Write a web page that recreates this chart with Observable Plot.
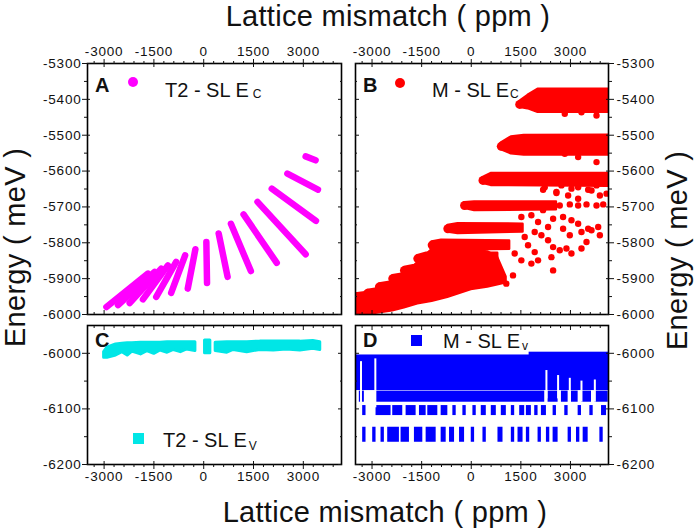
<!DOCTYPE html>
<html>
<head>
<meta charset="utf-8">
<script src="https://cdn.jsdelivr.net/npm/d3@7"></script>
<script src="https://cdn.jsdelivr.net/npm/@observablehq/plot@0.6"></script>
<style>
  html, body { margin: 0; padding: 0; background: #fff; }
  #chart { position: relative; width: 699px; height: 532px; background: #fff; overflow: hidden;
           font-family: "Liberation Sans", Arial, sans-serif; color: #111; }
  .pnl { position: absolute; }
  .pnl svg { background: transparent !important; overflow: visible; }
  .pnl svg text { letter-spacing: 0.8px; }
  .t { position: absolute; white-space: nowrap; line-height: 1; }
  .title { font-size: 29px; letter-spacing: 0.3px; }
  .leg { font-size: 20px; line-height: 20px; }
  .lab { font-size: 20px; line-height: 20px; font-weight: bold; }
  .sub { font-size: 12px; position: relative; margin-left: 4px; }
  .sym { position: absolute; }
</style>
</head>
<body>
<div id="chart"></div>
<script>
// ---------- shared axes ----------
const xDomain = [-3500, 4150];
const xMajor = [-3000, -1500, 0, 1500, 3000];
const xMinor = [-3300, -2700, -2400, -2100, -1800, -1200, -900, -600, -300, 300, 600, 900, 1200, 1800, 2100, 2400, 2700, 3300, 3600, 3900];
const yTopDomain = [-6000, -5300];
const yTopMajor = [-5300, -5400, -5500, -5600, -5700, -5800, -5900, -6000];
const yTopMinor = [-5350, -5450, -5550, -5650, -5750, -5850, -5950];
const yBotDomain = [-6200, -5950];
const yBotMajor = [-6000, -6100, -6200];
const yBotMinor = [-6050, -6150];

// ---------- Panel A : T2-SL Ec (stripes of dense dots) ----------
const aX1 = [3070, 2520, 2050, 1620, 1200, 820, 450, 80, -250, -560, -830, -1080, -1280, -1480, -1680];
const aY1 = [-5559, -5607, -5649, -5686, -5721, -5747, -5774, -5798, -5818, -5835, -5853, -5863, -5872, -5881, -5886];
const aX2 = [3370, 3440, 3380, 3070, 2200, 1420, 720, 100, -480, -980, -1430, -1830, -2230, -2580, -2930];
const aY2 = [-5570, -5652, -5739, -5832, -5856, -5879, -5895, -5912, -5928, -5940, -5951, -5958, -5968, -5974, -5979];

// ---------- Panel B : M-SL Ec ----------
const bBandId = [1,1,1,1, 2,2,2,2, 3,3,3, 4,4,4, 5,5,5, 6,6,6, 7,7,7, 8,8,8, 9,9,9, 10,10,10, 11,11,11, 12,12,12];
const bBandX  = [1465,1717,2020,4150, 908,1212,1600,4150, 354,600,4150, -202,100,2575, -708,-400,1565, -1182,-900,1160,
                 -1616,-1350,800, -2020,-1750,-1400, -2374,-2100,-1800, -2778,-2500,-2200, -3131,-2850,-2500, -3520,-3200,-2900];
const bBandLo = [-5422,-5426,-5436,-5436, -5540,-5552,-5555,-5555, -5634,-5640,-5642, -5704,-5710,-5708, -5770,-5774,-5770,
                 -5815,-5821,-5818, -5852,-5857,-5857, -5885,-5890,-5890, -5908,-5912,-5912, -5931,-5935,-5935, -5949,-5953,-5953, -5959,-5963,-5963];
const bBandHi = [-5406,-5389,-5372,-5372, -5522,-5505,-5501,-5500, -5618,-5607,-5607, -5688,-5686,-5686, -5752,-5747,-5748,
                 -5798,-5793,-5795, -5836,-5829,-5829, -5869,-5864,-5864, -5892,-5888,-5888, -5915,-5911,-5911, -5933,-5929,-5929, -5943,-5939,-5939];
const bMassX  = [-3520, -3131, -2778, -2374, -2020, -1616, -1182, -708, 0, 500, 800, 1060];
const bMassLo = [-6010, -6000, -5996, -5990, -5982, -5971, -5964, -5953, -5931, -5924, -5918, -5912];
const bMassHi = [-5957, -5950, -5932, -5910, -5888, -5855, -5818, -5818, -5820, -5825, -5840, -5895];
const bDotX = [2828, 3333, 3788, 3232, 3788, 4141, 2828, 2172, 2576, 3030, 3535, 4091,
               2222, 2727, 3232, 3788, 2575, 2929, 3232, 3889, 3636,
               2424, 2676, 2980, 3232, 3485, 3788, 3990,
               1515, 1818, 2171, 2020, 2323, 2475, 2777, 3030, 3232, 3535, 3838, 2777, 2980, 3333, 3636, 3889,
               1919, 2121, 2323, 2475, 2676, 2878, 3030, 3333, 3485, 1717, 1919, 2020, 1818, 2424, 2475, 1262, 1060, 1515, 1313, 1616];
const bDotY = [-5440, -5436, -5445, -5561, -5575, -5547, -5552, -5652, -5661, -5649, -5652, -5663,
               -5645, -5640, -5645, -5640, -5658, -5668, -5677, -5668, -5654,
               -5693, -5696, -5693, -5696, -5693, -5696, -5693,
               -5728, -5723, -5709, -5742, -5756, -5733, -5728, -5737, -5747, -5761, -5756, -5761, -5779, -5770, -5765, -5779,
               -5770, -5779, -5793, -5812, -5821, -5816, -5830, -5816, -5798, -5807, -5826, -5849, -5858, -5840, -5877, -5891, -5914, -5849, -5830, -5784];

// ---------- Panel C : T2-SL Ev ----------
const cSeg = [1,1,1,1,1,1,1,1,1,1,1,1,1,1,1, 2,2, 3,3,3,3,3,3,3,3,3,3];
const cX  = [-3000,-2900,-2640,-2450,-2290,-2150,-1890,-1700,-1490,-1300,-1090,-900,-690,-500,-250, 40,200,
             360,710,900,1310,1700,2110,2500,2910,3300,3510];
const cLo = [-6008,-6008,-6004,-5998,-6004,-5997,-6002,-5996,-6001,-5995,-5999,-5994,-5998,-5993,-5996, -6000,-6000,
             -5996,-5999,-5994,-5998,-5994,-5995,-5993,-5995,-5992,-5994];
const cHi = [-5998,-5990,-5984,-5983,-5982,-5982,-5981,-5981,-5981,-5981,-5980,-5980,-5980,-5980,-5980, -5977,-5977,
             -5981,-5980,-5980,-5980,-5979,-5979,-5979,-5979,-5978,-5980];

// ---------- Panel D : M-SL Ev ----------
const dBlockX1 = [-3500, 1750];
const dBlockX2 = [4150, 4150];
const dBlockY1 = [-6067, -6020];
const dBlockY2 = [-6003, -5998];
const dRowY = [[-6088, -6068], [-6112, -6094], [-6160, -6133]];
const dRowX = [
  [[-3384,-3232],[-2879,2222],[2323,2626],[2727,2929],[3030,3232],[3333,3636],[3737,4141]],
  [[-3283,-3182],[-2879,-2425],[-2374,-2071],[-1970,-1667],[-1566,-1364],[-1314,-1011],[-910,-708],[-556,-455],[-253,-152],
   [50,151],[303,455],[606,758],[909,1061],[1212,1313],[1465,1616],[1667,1818],[1919,2020],[2121,2273],[2475,2576],
   [2828,2929],[3232,3333],[3586,3687],[3939,4091]],
  [[-3283,-3182],[-2980,-2879],[-2728,-2627],[-2526,-2172],[-2122,-1869],[-1718,-1465],[-1364,-1061],[-910,-758],[-657,-505],
   [-354,-202],[0,101],[354,455],[808,960],[1212,1313],[1414,1566],[1667,1768],[2020,2121],[2273,2374],[2475,2626],
   [2929,3030],[3182,3283],[3384,3535],[3889,3990]]
];
const dNotchX  = [-3333, -2900, 2273, 2626, 2980, 3333, 3737];
const dNotchY1 = [-6095, -6098, -6082, -6082, -6088, -6088, -6088];
const dNotchY2 = [-6015, -6010, -6031, -6040, -6045, -6050, -6048];

// ---------- build tables ----------
const aRows = aX1.map((d, i) => ({x1: d, y1: aY1[i], x2: aX2[i], y2: aY2[i]}));
const bBands = bBandX.map((d, i) => ({band: bBandId[i], x: d, lo: bBandLo[i], hi: bBandHi[i], mid: (bBandLo[i] + bBandHi[i]) / 2}));
const bMass = bMassX.map((d, i) => ({x: d, lo: bMassLo[i], hi: bMassHi[i]}));
const bDots = bDotX.map((d, i) => ({x: d, y: bDotY[i]}));
const cRows = cX.map((d, i) => ({seg: cSeg[i], x: d, lo: cLo[i], hi: cHi[i]}));
const dRects = dBlockX1.map((d, i) => ({x1: d, x2: dBlockX2[i], y1: dBlockY1[i], y2: dBlockY2[i]}));
dRowX.forEach((row, r) => row.forEach(([a, b]) => dRects.push({x1: a, x2: b, y1: dRowY[r][0], y2: dRowY[r][1]})));
const dNotches = dNotchX.map((d, i) => ({x: d, y1: dNotchY1[i], y2: dNotchY2[i]}));

// ---------- panel factory ----------
const fmt = d => String(d);
const blank = () => "";
function panel({left, top, width, height, margin, yDomain, yMajor, yMinor, xSide, ySide, marks}) {
  const xo = xSide === "top" ? "bottom" : "top";
  const yo = ySide === "left" ? "right" : "left";
  const svg = Plot.plot({
    width, height,
    marginLeft: margin[3], marginRight: margin[1], marginTop: margin[0], marginBottom: margin[2],
    x: {domain: xDomain},
    y: {domain: yDomain},
    style: {fontSize: "13.5px", fontFamily: "'Liberation Sans', Arial, sans-serif", color: "#111", background: "transparent"},
    marks: [
      ...marks,
      Plot.frame({stroke: "#000", strokeWidth: 1.6}),
      Plot.axisX({ticks: xMajor, anchor: xSide, tickSize: 5, tickPadding: xSide === "top" ? 3 : 2, tickFormat: fmt, label: null}),
      Plot.axisX({ticks: xMinor, anchor: xSide, tickSize: 3, tickFormat: blank, label: null}),
      Plot.axisX({ticks: xMajor, anchor: xSide, tickSize: -3, tickFormat: blank, label: null}),
      Plot.axisX({ticks: xMajor, anchor: xo, tickSize: -4, tickFormat: blank, label: null}),
      Plot.axisX({ticks: xMinor, anchor: xo, tickSize: -2, tickFormat: blank, label: null}),
      Plot.axisY({ticks: yMajor, anchor: ySide, tickSize: 5, tickPadding: ySide === "left" ? 1 : 3, tickFormat: fmt, label: null}),
      Plot.axisY({ticks: yMinor, anchor: ySide, tickSize: 3, tickFormat: blank, label: null}),
      Plot.axisY({ticks: yMajor, anchor: ySide, tickSize: -3, tickFormat: blank, label: null}),
      Plot.axisY({ticks: yMajor, anchor: yo, tickSize: -4, tickFormat: blank, label: null}),
      Plot.axisY({ticks: yMinor, anchor: yo, tickSize: -2, tickFormat: blank, label: null})
    ]
  });
  const div = document.createElement("div");
  div.className = "pnl";
  div.style.left = left + "px";
  div.style.top = top + "px";
  div.appendChild(svg);
  document.getElementById("chart").appendChild(div);
}

const MAG = "#ff00ff", RED = "#ff0000", CYAN = "#00e6e6", BLUE = "#0000ff";

// A
panel({left: 0, top: 0, width: 349, height: 319, margin: [63, 8, 5, 87],
  yDomain: yTopDomain, yMajor: yTopMajor, yMinor: yTopMinor, xSide: "top", ySide: "left",
  marks: [
    Plot.link(aRows, {x1: "x1", y1: "y1", x2: "x2", y2: "y2", stroke: MAG, strokeWidth: 6.5, strokeLinecap: "round", clip: true})
  ]});
// B
panel({left: 349, top: 0, width: 350, height: 319, margin: [63, 91, 5, 6],
  yDomain: yTopDomain, yMajor: yTopMajor, yMinor: yTopMinor, xSide: "top", ySide: "right",
  marks: [
    Plot.areaY(bMass, {x: "x", y1: "lo", y2: "hi", fill: RED, stroke: RED, strokeWidth: 2, strokeLinejoin: "round", clip: true}),
    Plot.areaY(bBands, {x: "x", y1: "lo", y2: "hi", z: "band", fill: RED, stroke: RED, strokeWidth: 2.5, strokeLinejoin: "round", clip: true}),
    Plot.dot(bBands, Plot.selectFirst({x: "x", y: "mid", z: "band", r: 4.5, fill: RED, clip: true})),
    Plot.dot(bDots, {x: "x", y: "y", r: 3.2, fill: RED, clip: true})
  ]});
// C
panel({left: 0, top: 319, width: 349, height: 213, margin: [6, 8, 68, 87],
  yDomain: yBotDomain, yMajor: yBotMajor, yMinor: yBotMinor, xSide: "bottom", ySide: "left",
  marks: [
    Plot.areaY(cRows, {x: "x", y1: "lo", y2: "hi", z: "seg", fill: CYAN, stroke: CYAN, strokeWidth: 3, strokeLinejoin: "round", clip: true})
  ]});
// D
panel({left: 349, top: 319, width: 350, height: 213, margin: [6, 91, 68, 6],
  yDomain: yBotDomain, yMajor: yBotMajor, yMinor: yBotMinor, xSide: "bottom", ySide: "right",
  marks: [
    Plot.rect(dRects, {x1: "x1", x2: "x2", y1: "y1", y2: "y2", fill: BLUE, clip: true}),
    Plot.ruleX(dNotches, {x: "x", y1: "y1", y2: "y2", stroke: "#fff", strokeWidth: 2, clip: true})
  ]});

// ---------- text overlays ----------
const chart = document.getElementById("chart");
function addText(html, cls, css) {
  const el = document.createElement("div");
  el.className = "t " + cls;
  el.innerHTML = html;
  Object.assign(el.style, css);
  chart.appendChild(el);
  return el;
}
function addSym(css) {
  const el = document.createElement("div");
  el.className = "sym";
  Object.assign(el.style, css);
  chart.appendChild(el);
}
addText("Lattice mismatch ( ppm )", "title", {left: "188px", top: "2px", width: "400px", textAlign: "center"});
addText("Lattice mismatch ( ppm )", "title", {left: "185px", top: "497.5px", width: "400px", textAlign: "center"});
addText("Energy ( meV )", "title", {left: "-115px", top: "233px", width: "260px", height: "29px", textAlign: "center", transform: "rotate(-90deg)"});
addText("Energy ( meV )", "title", {left: "547px", top: "236px", width: "260px", height: "29px", textAlign: "center", transform: "rotate(-90deg)"});

// panel letters
addText("A", "lab", {left: "95px", top: "75px"});
addText("B", "lab", {left: "363px", top: "75px"});
addText("C", "lab", {left: "95px", top: "330px"});
addText("D", "lab", {left: "363px", top: "330px"});

// legends
addSym({left: "128px", top: "77px", width: "10px", height: "10px", borderRadius: "50%", background: MAG});
addText('T2 - SL E<span class="sub" style="top:1px">C</span>', "leg", {left: "165px", top: "80px"});
addSym({left: "395px", top: "78px", width: "10px", height: "10px", borderRadius: "50%", background: RED});
addText('M - SL E<span class="sub" style="top:1px;margin-left:1px">C</span>', "leg", {left: "432px", top: "80px"});
addSym({left: "132.5px", top: "433px", width: "11px", height: "11px", background: CYAN});
addText('T2 - SL E<span class="sub" style="top:3px;margin-left:2px">V</span>', "leg", {left: "163px", top: "430px"});
addSym({left: "411px", top: "334.5px", width: "11px", height: "11px", background: BLUE});
addText('M - SL E<span class="sub" style="top:2px;margin-left:2px">v</span>', "leg", {left: "443px", top: "331px"});
</script>
</body>
</html>
